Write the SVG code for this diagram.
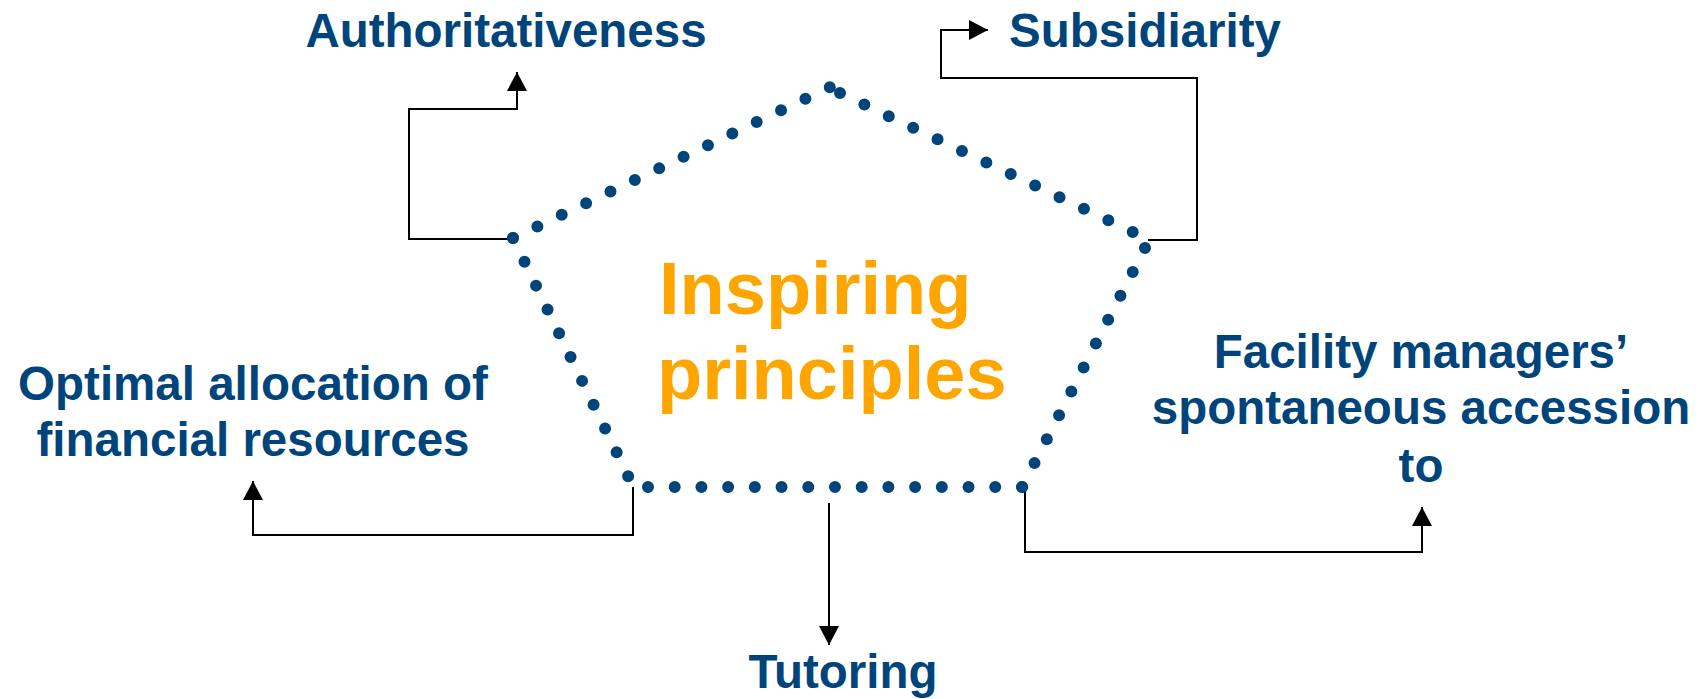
<svg xmlns="http://www.w3.org/2000/svg" width="1708" height="699" viewBox="0 0 1708 699">
<style>
.lbl{font-family:"Liberation Sans",Arial,sans-serif;font-weight:bold;font-size:47.5px;fill:#00447C;text-anchor:middle}
.ttl{font-family:"Liberation Sans",Arial,sans-serif;font-weight:bold;font-size:74px;fill:#FFA500}
.conn{fill:none;stroke:#000;stroke-width:2}
.edge{fill:none;stroke:#00447C;stroke-width:12;stroke-linecap:round}
</style>
<defs>
<marker id="ah" markerUnits="userSpaceOnUse" markerWidth="20" markerHeight="20" refX="19" refY="10" orient="auto">
<path d="M0,0 L19,10 L0,20 z" fill="#000"/>
</marker>
</defs>
<rect width="1708" height="699" fill="#fff"/>
<g id="connectors">
<path class="conn" d="M513 239 H409 V109 H517 V72" marker-end="url(#ah)"/>
<path class="conn" d="M1148 240 H1197 V78 H941 V30 H988" marker-end="url(#ah)"/>
<path class="conn" d="M633 487 V535 H253 V481" marker-end="url(#ah)"/>
<path class="conn" d="M829 503 V645" marker-end="url(#ah)"/>
<path class="conn" d="M1025 487 V552 H1422 V507" marker-end="url(#ah)"/>
</g>
<g id="center">
<g id="pentagon">
<line class="edge" x1="513" y1="238" x2="830.3" y2="86.9" stroke-dasharray="0 26.99"/>
<line class="edge" x1="840" y1="93" x2="1133.3" y2="232.2" stroke-dasharray="0 27.0"/>
<line class="edge" x1="1145" y1="248" x2="1022.1" y2="487.3" stroke-dasharray="0 26.87"/>
<line class="edge" x1="648" y1="487" x2="1022.4" y2="487" stroke-dasharray="0 26.71"/>
<line class="edge" x1="513" y1="238" x2="628.2" y2="476.3" stroke-dasharray="0 26.45"/>
</g>
<text class="ttl" x="659" y="314">Inspiring</text>
<text class="ttl" x="657" y="399">principles</text>
</g>
<g id="authoritativeness"><text class="lbl" x="506" y="47">Authoritativeness</text></g>
<g id="subsidiarity"><text class="lbl" x="1145" y="47">Subsidiarity</text></g>
<g id="optimal"><text class="lbl" x="253" y="400" font-size="48">Optimal allocation of</text><text class="lbl" x="253" y="456" font-size="48">financial resources</text></g>
<g id="facility"><text class="lbl" x="1421" y="368">Facility managers’</text><text class="lbl" x="1421" y="424">spontaneous accession</text><text class="lbl" x="1421" y="482">to</text></g>
<g id="tutoring"><text class="lbl" x="843" y="688">Tutoring</text></g>
</svg>
